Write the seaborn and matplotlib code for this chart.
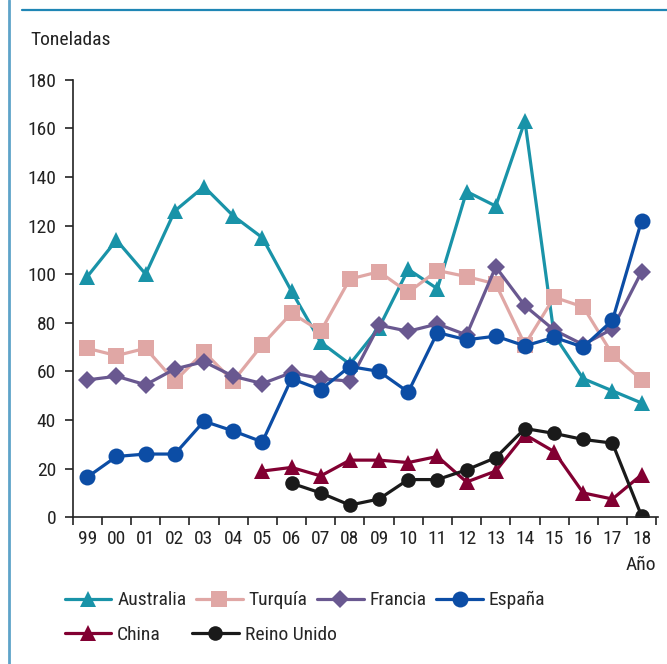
import matplotlib
matplotlib.use("Agg")
import matplotlib.pyplot as plt
from matplotlib import font_manager
from matplotlib.lines import Line2D
import numpy as np
import pandas as pd
import seaborn as sns

# Data (toneladas por año)
years = ["99", "00", "01", "02", "03", "04", "05", "06", "07", "08",
         "09", "10", "11", "12", "13", "14", "15", "16", "17", "18"]

australia = [99, 114, 100, 126, 136, 124, 115, 93, 72, 63,
             78, 102, 94, 134, 128, 163, 75, 57, 52, 47]
turquia = [69.5, 66.5, 69.5, 56, 68, 56, 71, 84, 76.5, 98,
           101, 92.5, 101.5, 99, 96, 71, 90.5, 86.5, 67, 56.5]
francia = [56.5, 58, 54.5, 61, 64, 58, 55, 59.5, 57, 56,
           79, 76.5, 79.5, 75, 103, 87, 77, 71, 77.5, 101]
espana = [16.5, 25, 26, 26, 39.5, 35.5, 31, 57, 52.5, 62,
          60, 51.5, 76, 73, 74.5, 70.5, 74, 70, 81, 122]
# China desde 2005, Reino Unido desde 2006
china = [19, 20.5, 17, 23.5, 23.5, 22.5, 25, 14.5, 19, 34, 27, 10, 7.5, 17.5]
reino_unido = [14, 10, 5, 7.5, 15.5, 15.5, 19.5, 24.5, 36.5, 34.5, 32, 30.5, 0.5]

series = [
    ("Australia", australia, 0, "#1993a8", "^", 12),
    ("Turquía", turquia, 0, "#e0a7a5", "s", 11),
    ("Francia", francia, 0, "#695890", "D", 9),
    ("España", espana, 0, "#0c4da5", "o", 11.5),
    ("China", china, 6, "#820032", "^", 11),
    ("Reino Unido", reino_unido, 7, "#1a1a1a", "o", 10.5),
]

sns.set_style("ticks")
# prefer a narrow face if one is installed
installed = {f.name for f in font_manager.fontManager.ttflist}
narrow = [f for f in ["Liberation Sans Narrow", "Roboto Condensed",
                      "Open Sans Condensed", "Noto Sans Condensed",
                      "DejaVu Sans Condensed"] if f in installed]
plt.rcParams["font.family"] = narrow[:1] + ["Roboto", "DejaVu Sans"]
fs = 14 if narrow else 13

fig = plt.figure(figsize=(6.67, 6.64), dpi=100)
ax = fig.add_axes([0.109, 0.221, 0.877, 0.659])

handles = {}
for name, vals, start, color, marker, ms in series:
    df = pd.DataFrame({"x": np.arange(start, start + len(vals)), "y": vals})
    sns.lineplot(data=df, x="x", y="y", ax=ax, color=color, marker=marker,
                 markersize=ms, markeredgewidth=0, linewidth=2.3, legend=False)
    handles[name] = Line2D([], [], color=color, marker=marker, markersize=ms,
                           markeredgewidth=0, linewidth=2.3)

ax.set_xlim(-0.5, len(years) - 0.45)
ax.set_ylim(0, 180)
ax.set_yticks(range(0, 181, 20))
ax.set_xticks(np.arange(len(years)))
ax.set_xticklabels(years)
ax.set_xticks(np.arange(-0.5, len(years)), minor=True)
ax.tick_params(axis="x", which="major", length=0, pad=9, labelsize=fs, colors="#222222")
ax.tick_params(axis="x", which="minor", length=6, width=1.2, color="#222222")
ax.tick_params(axis="y", length=6, width=1.2, pad=6, labelsize=fs, colors="#222222")
ax.set_xlabel("")
ax.set_ylabel("")
sns.despine(ax=ax)
for s in ["left", "bottom"]:
    ax.spines[s].set_color("#222222")
    ax.spines[s].set_linewidth(1.2)

fig.text(0.045, 0.94, "Toneladas", fontsize=fs, color="#222222", va="center")
fig.text(0.984, 0.149, "Año", fontsize=fs, color="#222222", va="center", ha="right")

row1 = ["Australia", "Turquía", "Francia", "España"]
row2 = ["China", "Reino Unido"]
fig.legend([handles[n] for n in row1], row1, loc="center left",
           bbox_to_anchor=(0.097, 0.096), ncol=4, frameon=False,
           fontsize=fs, handlelength=2.4, handletextpad=0.3,
           columnspacing=0.5, borderpad=0, borderaxespad=0)
fig.legend([handles[n] for n in row2], row2, loc="center left",
           bbox_to_anchor=(0.097, 0.044), ncol=2, frameon=False,
           fontsize=fs, handlelength=2.4, handletextpad=0.3,
           columnspacing=1.6, borderpad=0, borderaxespad=0)

# frame lines
fig.add_artist(Line2D([0.013, 0.013], [0, 1], transform=fig.transFigure,
                      color="#5ea3c9", linewidth=2))
fig.add_artist(Line2D([0.033, 1], [0.985, 0.985], transform=fig.transFigure,
                      color="#1f86b5", linewidth=1.6))

fig.savefig("out.png", dpi=100)
